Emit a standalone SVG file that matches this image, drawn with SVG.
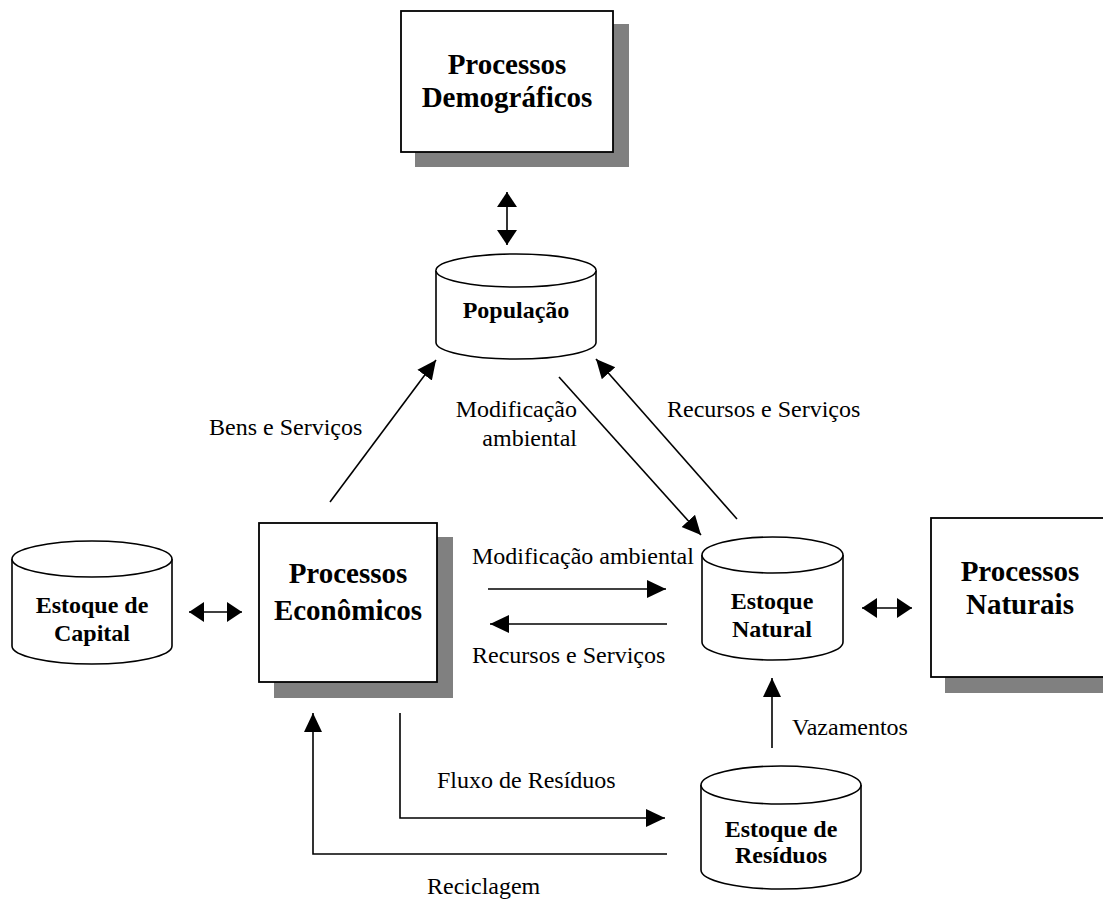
<svg xmlns="http://www.w3.org/2000/svg" width="1103" height="904" viewBox="0 0 1103 904">
<defs>
<style>
.box{fill:#fff;stroke:#000;stroke-width:1.8}
.shadow{fill:#808080;stroke:none}
.cyl{fill:#fff;stroke:#000;stroke-width:1.6}
.big{font-family:"Liberation Serif","Times New Roman",serif;font-weight:bold;font-size:29px;text-anchor:middle;fill:#000}
.mid{font-family:"Liberation Serif","Times New Roman",serif;font-weight:bold;font-size:24px;text-anchor:middle;fill:#000}
.lbl{font-family:"Liberation Serif","Times New Roman",serif;font-size:24px;fill:#000}
.con{fill:none;stroke:#000;stroke-width:1.6}
</style>
<marker id="ah" markerUnits="userSpaceOnUse" markerWidth="20" markerHeight="20" refX="19" refY="9" orient="auto-start-reverse" viewBox="0 0 20 18">
<path d="M0,0 L19,9 L0,18 z" fill="#000"/>
</marker>
<marker id="ahs" markerUnits="userSpaceOnUse" markerWidth="16" markerHeight="20" refX="15" refY="10" orient="auto-start-reverse" viewBox="0 0 16 20">
<path d="M0,0 L15,10 L0,20 z" fill="#000"/>
</marker>
</defs>
<rect width="1103" height="904" fill="#fff"/>

<g id="demograficos">
<rect class="shadow" x="415" y="24" width="214" height="143"/>
<rect class="box" x="401" y="11" width="212" height="141"/>
<text class="big" x="507" y="74">Processos</text>
<text class="big" x="507" y="107">Demográficos</text>
</g>

<g id="populacao">
<path class="cyl" d="M436,270.5 L436,342.5 A80,16.5 0 0 0 596,342.5 L596,270.5 A80,16.5 0 0 0 436,270.5 Z"/>
<path class="cyl" d="M436,270.5 A80,16.5 0 0 0 596,270.5" fill="none"/>
<text class="mid" x="516" y="318">População</text>
</g>

<g id="capital">
<path class="cyl" d="M12,559 L12,646 A80,18 0 0 0 172,646 L172,559 A80,18 0 0 0 12,559 Z"/>
<path class="cyl" d="M12,559 A80,18 0 0 0 172,559" fill="none"/>
<text class="mid" x="92" y="613">Estoque de</text>
<text class="mid" x="92" y="641">Capital</text>
</g>

<g id="economicos">
<rect class="shadow" x="274" y="537" width="179" height="161"/>
<rect class="box" x="259" y="523" width="178" height="159"/>
<text class="big" x="348" y="583">Processos</text>
<text class="big" x="348" y="620">Econômicos</text>
</g>

<g id="natural">
<path class="cyl" d="M702,555 L702,642 A70.5,18 0 0 0 843,642 L843,555 A70.5,18 0 0 0 702,555 Z"/>
<path class="cyl" d="M702,555 A70.5,18 0 0 0 843,555" fill="none"/>
<text class="mid" x="772" y="609">Estoque</text>
<text class="mid" x="772" y="637">Natural</text>
</g>

<g id="naturais">
<rect class="shadow" x="945" y="533" width="170" height="160"/>
<rect class="box" x="931" y="518" width="180" height="159"/>
<text class="big" x="1020" y="581">Processos</text>
<text class="big" x="1020" y="614">Naturais</text>
</g>

<g id="residuos">
<path class="cyl" d="M701,785 L701,870 A80,19 0 0 0 861,870 L861,785 A80,19 0 0 0 701,785 Z"/>
<path class="cyl" d="M701,785 A80,19 0 0 0 861,785" fill="none"/>
<text class="mid" x="781" y="837">Estoque de</text>
<text class="mid" x="781" y="863">Resíduos</text>
</g>

<g id="connectors">
<line class="con" x1="507" y1="192" x2="507" y2="245" marker-start="url(#ahs)" marker-end="url(#ahs)"/>
<line class="con" x1="189" y1="612" x2="242" y2="612" marker-start="url(#ahs)" marker-end="url(#ahs)"/>
<line class="con" x1="862" y1="608" x2="912" y2="608" marker-start="url(#ahs)" marker-end="url(#ahs)"/>
<line class="con" x1="330" y1="502" x2="436" y2="360" marker-end="url(#ah)"/>
<line class="con" x1="559" y1="377" x2="701" y2="535" marker-end="url(#ah)"/>
<line class="con" x1="737" y1="519" x2="596" y2="359" marker-end="url(#ah)"/>
<line class="con" x1="488" y1="589" x2="666" y2="589" marker-end="url(#ah)"/>
<line class="con" x1="667" y1="624" x2="490" y2="624" marker-end="url(#ah)"/>
<line class="con" x1="772" y1="748" x2="772" y2="678" marker-end="url(#ah)"/>
<polyline class="con" points="400,713 400,818 665,818" marker-end="url(#ah)"/>
<polyline class="con" points="667,854 313,854 313,713" marker-end="url(#ah)"/>
</g>

<g id="labels">
<text class="lbl" x="209" y="435">Bens e Serviços</text>
<text class="lbl" x="577" y="417" text-anchor="end">Modificação</text>
<text class="lbl" x="577" y="446" text-anchor="end">ambiental</text>
<text class="lbl" x="667" y="417">Recursos e Serviços</text>
<text class="lbl" x="472" y="564">Modificação ambiental</text>
<text class="lbl" x="472" y="663">Recursos e Serviços</text>
<text class="lbl" x="792" y="735">Vazamentos</text>
<text class="lbl" x="437" y="788">Fluxo de Resíduos</text>
<text class="lbl" x="427" y="894">Reciclagem</text>
</g>
</svg>
